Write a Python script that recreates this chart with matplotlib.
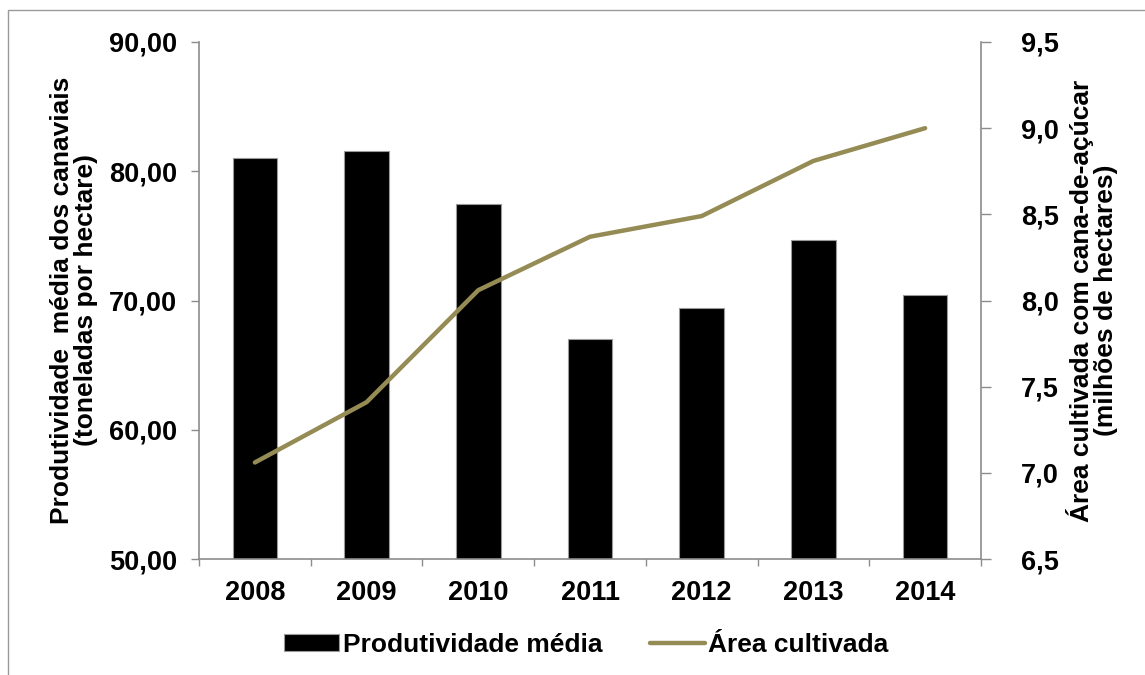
import matplotlib
matplotlib.use("Agg")
import matplotlib.pyplot as plt
from matplotlib.patches import Rectangle
from matplotlib.ticker import FixedLocator, FuncFormatter
import numpy as np

years = ["2008", "2009", "2010", "2011", "2012", "2013", "2014"]
produtividade = [81.0, 81.6, 77.5, 67.0, 69.4, 74.7, 70.4]
area = [7.06, 7.41, 8.06, 8.37, 8.49, 8.81, 9.00]

bar_color = "#000000"
line_color = "#958B55"
spine_color = "#8C8C8C"

font = ["Liberation Sans", "DejaVu Sans"]

fig = plt.figure(figsize=(11.45, 6.75), dpi=100)
ax = fig.add_axes([199 / 1145, 1 - 559 / 675, (981 - 199) / 1145, (559 - 42) / 675])
ax2 = ax.twinx()

x = np.arange(len(years))
bars = ax.bar(x, produtividade, width=0.4, color=bar_color, edgecolor="#9A9A9A",
              linewidth=0.8, label="Produtividade média", zorder=2)
line, = ax2.plot(x, area, color=line_color, linewidth=3.2, solid_capstyle="round",
                 label="Área cultivada", zorder=3)

ax.set_xlim(-0.5, len(years) - 0.5)
ax.set_ylim(50, 90)
ax2.set_ylim(6.5, 9.5)

ax.set_yticks(np.arange(50, 91, 10))
ax.yaxis.set_major_formatter(FuncFormatter(lambda v, p: f"{v:.2f}".replace(".", ",")))
ax2.set_yticks(np.arange(6.5, 9.51, 0.5))
ax2.yaxis.set_major_formatter(FuncFormatter(lambda v, p: f"{v:.1f}".replace(".", ",")))

ax.set_xticks(x)
ax.set_xticklabels(years)
ax.xaxis.set_minor_locator(FixedLocator(np.arange(-0.5, len(years), 1.0)))
ax.tick_params(axis="x", which="major", length=0, pad=15)
ax.tick_params(axis="x", which="minor", length=5, width=1, color=spine_color, direction="out")
ax.tick_params(axis="y", length=6, width=1, color=spine_color, pad=10)
ax2.tick_params(axis="y", length=7, width=1, color=spine_color, pad=22)

for a in (ax, ax2):
    for lbl in a.get_xticklabels() + a.get_yticklabels():
        lbl.set_fontfamily(font)
        lbl.set_fontweight("bold")
        lbl.set_fontsize(19.5)
    a.spines["top"].set_visible(False)
    for s in ("left", "right", "bottom"):
        a.spines[s].set_color(spine_color)
        a.spines[s].set_linewidth(1.2)
ax.spines["right"].set_visible(False)
ax2.spines["left"].set_visible(False)
ax2.spines["bottom"].set_visible(False)

ax.set_ylabel("Produtividade  média dos canaviais\n(toneladas por hectare)",
              fontfamily=font, fontweight="bold", fontsize=19, linespacing=1.0)
ax.yaxis.set_label_coords((98 - 199) / 782, 0.5)
ax2.set_ylabel("Área cultivada com cana-de-açúcar\n(milhões de hectares)",
               fontfamily=font, fontweight="bold", fontsize=19, linespacing=1.0,
               rotation=90)
ax2.yaxis.set_label_coords((1066 - 199) / 782, 0.5)

leg = fig.legend(handles=[bars, line], loc="center", bbox_to_anchor=(0.512, 1 - 645 / 675),
                 ncol=2, frameon=False, handlelength=2.1, handleheight=0.6,
                 handletextpad=0.12, columnspacing=1.8,
                 prop={"family": font, "weight": "bold", "size": 19})

fig.patches.append(Rectangle((8 / 1145, -0.2), 1.2, 1.2 - 10 / 675,
                             transform=fig.transFigure, fill=False,
                             edgecolor="#9A9A9A", linewidth=1.0))

fig.savefig("out.png", dpi=100)
